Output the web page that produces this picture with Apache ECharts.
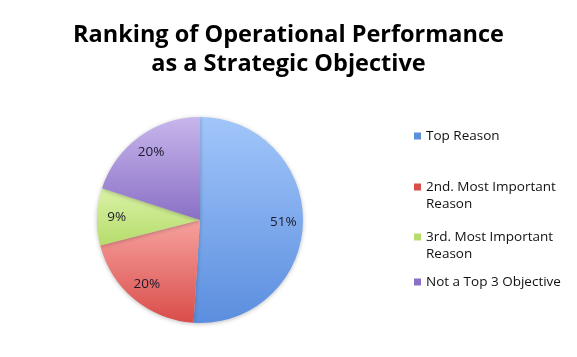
<!DOCTYPE html>
<html>
<head>
<meta charset="utf-8">
<script src="https://cdn.jsdelivr.net/npm/echarts@6/dist/echarts.min.js"></script>
<style>
  html, body { margin: 0; padding: 0; background: #fff; }
  #chart { width: 577px; height: 357px; }
</style>
</head>
<body>
<div id="chart"></div>
<script>
const categories = ['Top Reason', '2nd. Most Important Reason', '3rd. Most Important Reason', 'Not a Top 3 Objective']
const legendLines = [['Top Reason'], ['2nd. Most Important', 'Reason'], ['3rd. Most Important', 'Reason'], ['Not a Top 3 Objective']]
const values = [51, 20, 9, 20]
const topColors = ['#a2c6fa', '#f7a29e', '#d9f2a6', '#c7b6ec']
const bottomColors = ['#5b8edf', '#d94d4a', '#b6dc6c', '#8a70c6']

const font = '"Open Sans", "Noto Sans", sans-serif'
const center = [200, 220]
const radius = 103

function grad(i) {
  return new echarts.graphic.LinearGradient(0, 0, 0, 1, [
    { offset: 0, color: topColors[i] },
    { offset: 1, color: bottomColors[i] },
  ])
}

const pieData = categories.map((name, i) => ({
  name,
  value: values[i],
  itemStyle: { color: grad(i) },
}))

// legend centres (first text line)
const legendTops = [136, 187, 237, 282]
const lineH = 17

const legends = categories.map((name, i) => {
  const lines = legendLines[i]
  return {
    data: [{ name, itemStyle: { color: bottomColors[i] } }],
    orient: 'vertical',
    left: 414,
    top: legendTops[i] - (lines.length === 1 ? lineH / 2 : (lines.length - 1) * lineH + lineH / 2),
    padding: 0,
    itemWidth: 7,
    itemHeight: 7,
    itemGap: 0,
    icon: 'rect',
    selectedMode: false,
    // an empty line above keeps the icon level with the first text line
    formatter: () => (lines.length === 1 ? lines[0] : '\n' + lines.join('\n')),
    textStyle: { fontFamily: font, fontSize: 13.5, color: '#111', lineHeight: lineH },
  }
})

const option = {
  backgroundColor: '#fff',
  animation: false,
  title: {
    text: 'Ranking of Operational Performance\nas a Strategic Objective',
    left: 'center',
    top: 16,
    textStyle: { fontFamily: font, fontSize: 23.5, fontWeight: 'bold', color: '#000', lineHeight: 29 },
  },
  legend: legends,
  series: [
    {
      type: 'pie',
      center,
      radius,
      startAngle: 90,
      clockwise: true,
      data: pieData,
      label: { show: false },
      labelLine: { show: false },
      itemStyle: { borderWidth: 0, shadowBlur: 4, shadowColor: 'rgba(0,0,0,0.25)', shadowOffsetY: 1 },
      emphasis: { disabled: true },
    },
    {
      // transparent twin only to place the labels at ~0.78 of the radius
      type: 'pie',
      center,
      radius: radius * 1.56,
      startAngle: 90,
      clockwise: true,
      silent: true,
      legendHoverLink: false,
      data: categories.map((name, i) => ({ name, value: values[i] })),
      itemStyle: { color: 'rgba(0,0,0,0)' },
      label: {
        show: true,
        position: 'inside',
        formatter: '{c}%',
        fontFamily: font,
        fontSize: 13.5,
        color: '#1a1a2a',
      },
      labelLine: { show: false },
      emphasis: { disabled: true },
    },
  ],
}

const chart = echarts.init(document.getElementById('chart'), null, { renderer: 'canvas' })
chart.setOption(option)
</script>
</body>
</html>
